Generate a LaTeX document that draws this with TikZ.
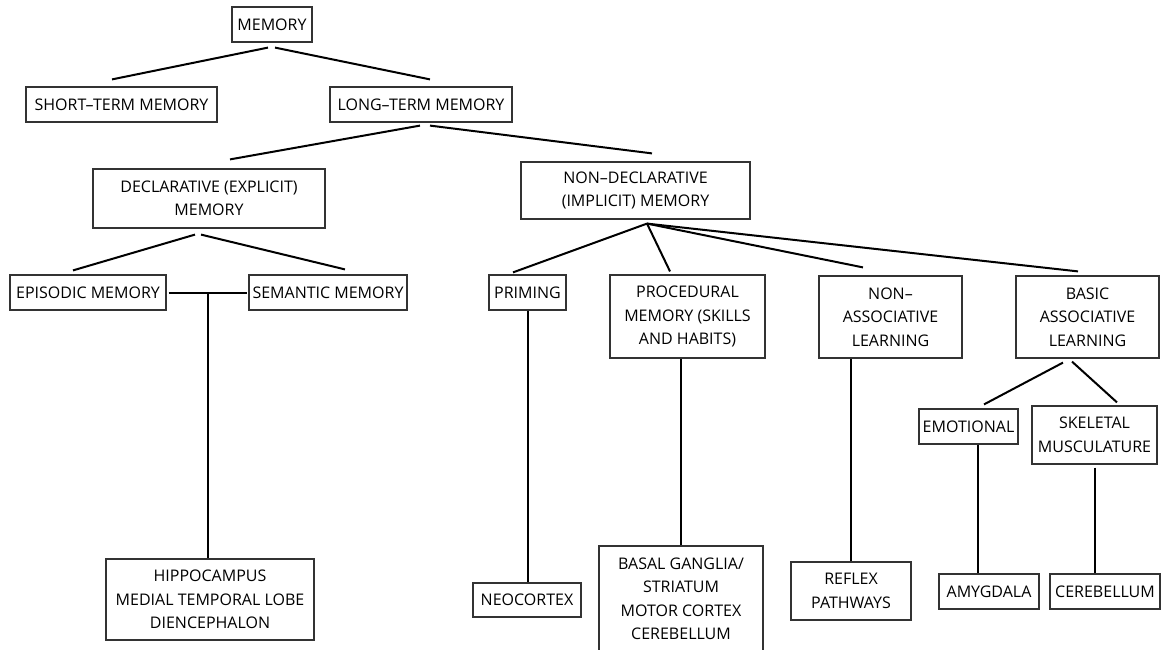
\documentclass[tikz,border=0pt]{standalone}
\usepackage{fontspec}
\setmainfont{Open Sans}
\usetikzlibrary{calc}

\begin{document}
\begin{tikzpicture}[x=1pt,y=-1pt] % Memory systems
\tikzstyle{mybox} = [draw=black!80, line width=1.2pt, align=center, inner sep=0pt, text=black, font=\fontsize{16}{23.5}\selectfont] % box style
\tikzstyle{myline} = [line width=2pt] % connector style
\clip (0,0) rectangle (1161,650);

% top levels
\node[mybox, minimum width=80, minimum height=35] (mem) at (272,24.5) {MEMORY};
\node[mybox, minimum width=191, minimum height=35] (stm) at (121.5,104.5) {SHORT–TERM MEMORY};
\node[mybox, minimum width=182, minimum height=35] (ltm) at (421,104.5) {LONG–TERM MEMORY};
\node[mybox, minimum width=232, minimum height=59] (decl) at (209,198.5) {DECLARATIVE (EXPLICIT)\\MEMORY};
\node[mybox, minimum width=229, minimum height=57] (nondecl) at (635.5,190.5) {NON–DECLARATIVE\\(IMPLICIT) MEMORY};
%
\node[mybox, minimum width=156, minimum height=35] (epi) at (88,292.5) {EPISODIC MEMORY};
\node[mybox, minimum width=158, minimum height=35] (sem) at (328,292.5) {SEMANTIC MEMORY};
\node[mybox, minimum width=77, minimum height=35] (prim) at (527.5,292.5) {PRIMING};
\node[mybox, minimum width=155, minimum height=83] (proc) at (687.5,316.5) {PROCEDURAL\\MEMORY (SKILLS\\AND HABITS)};
\node[mybox, minimum width=143, minimum height=82] (nonassoc) at (890.5,317) {NON–\\ASSOCIATIVE\\LEARNING};
\node[mybox, minimum width=143, minimum height=82] (basic) at (1087.5,317) {BASIC\\ASSOCIATIVE\\LEARNING};
\node[mybox, minimum width=99, minimum height=35] (emo) at (968.5,426.5) {EMOTIONAL};
\node[mybox, minimum width=125, minimum height=58] (skel) at (1094.5,435) {SKELETAL\\MUSCULATURE};
% brain areas
\node[mybox, minimum width=208, minimum height=81] (hippo) at (210,599.5) {HIPPOCAMPUS\\MEDIAL TEMPORAL LOBE\\DIENCEPHALON};
\node[mybox, minimum width=108, minimum height=34] (neo) at (527,600) {NEOCORTEX};
\node[mybox, minimum width=164, minimum height=106] (basal) at (681,599) {BASAL GANGLIA/\\STRIATUM\\MOTOR CORTEX\\CEREBELLUM};
\node[mybox, minimum width=120, minimum height=58] (reflex) at (851,591) {REFLEX\\PATHWAYS};
\node[mybox, minimum width=100, minimum height=35] (amyg) at (989,591.5) {AMYGDALA};
\node[mybox, minimum width=110, minimum height=35] (cereb) at (1105,591.5) {CEREBELLUM};

% branches
\draw[myline] ([shift={(-4,5)}]mem.south) -- ([shift={(-9.5,-7)}]stm.north);
\draw[myline] ([shift={(3,5)}]mem.south) -- ([shift={(9,-7)}]ltm.north);
\draw[myline] ([shift={(-1,3)}]ltm.south) -- ([shift={(21,-9)}]decl.north);
\draw[myline] ([shift={(9,3)}]ltm.south) -- ([shift={(16.5,-8)}]nondecl.north);
\draw[myline] ([shift={(-14,6)}]decl.south) -- ([shift={(-15,-4)}]epi.north);
\draw[myline] ([shift={(-8,6)}]decl.south) -- ([shift={(17,-5)}]sem.north);
\draw[myline] ([shift={(11.5,4)}]nondecl.south) -- ([shift={(-14.5,-2)}]prim.north);
\draw[myline] ([shift={(11.5,4)}]nondecl.south) -- ([shift={(-17.5,-3)}]proc.north);
\draw[myline] ([shift={(11.5,4)}]nondecl.south) -- ([shift={(-27.5,-8)}]nonassoc.north);
\draw[myline] ([shift={(11.5,4)}]nondecl.south) -- ([shift={(-9.5,-4)}]basic.north);
\draw[myline] ([shift={(-24.5,4)}]basic.south) -- ([shift={(15.5,-4)}]emo.north);
\draw[myline] ([shift={(-15.5,3)}]basic.south) -- ([shift={(22.5,-3)}]skel.north);
% stems
\draw[myline] ([xshift=2]epi.east) -- ([xshift=-1]sem.west);
\draw[myline] ($(epi.east)!0.5!(sem.west)$) coordinate (jn) -- (jn |- hippo.north);
\draw[myline] (prim.south) -- (prim.south |- neo.north);
\draw[myline] (basal.north) -- (basal.north |- proc.south);
\draw[myline] (reflex.north) -- (reflex.north |- nonassoc.south);
\draw[myline] ([xshift=9.5]emo.south) coordinate (e) -- (e |- amyg.north);
\draw[myline] ([yshift=-3]skel.south) -- (skel.south |- cereb.north);
\end{tikzpicture}
\end{document}
